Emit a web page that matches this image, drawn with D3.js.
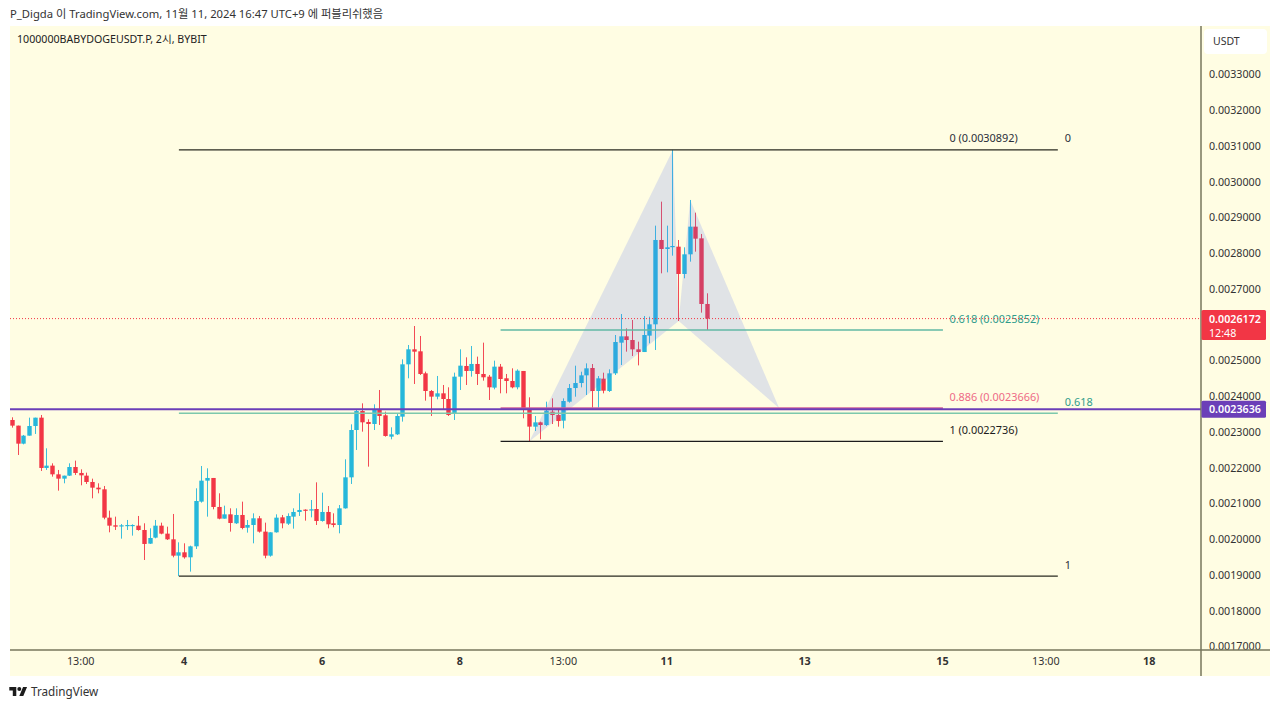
<!DOCTYPE html>
<html>
<head>
<meta charset="utf-8">
<script src="https://cdn.jsdelivr.net/npm/d3@7"></script>
<style>
html,body{margin:0;padding:0;background:#fff;}
svg{display:block;}
text{font-family:"Noto Sans","Noto Sans CJK KR",sans-serif;}
</style>
</head>
<body>
<div id="chart1"></div>
<script>
// prices are in units of 0.0000001, one entry per 2h candle
var opens = [23336,23178,22674,22898,23168,23401,21994,22059,21816,21695,
21779,22021,21854,21779,21602,21443,21397,20604,20390,20371,
20380,20380,20380,20259,19877,20045,20380,20157,19998,19541,
19635,19495,19802,21052,21639,21714,20903,20576,20697,20446,
20679,20324,20399,20586,20213,19541,20194,20613,20436,20632,
20763,20828,20809,20846,20511,20763,20446,20399,20865,21732,
23056,23588,23280,23224,23634,23467,22870,22935,23429,24893,
25313,25257,24641,24147,23989,24082,23923,23504,24548,24847,
24707,24903,24623,24548,24241,24828,24502,24427,24250,24707,
23644,23149,23270,23195,23568,23475,23317,23848,24230,24370,
24585,24790,24147,24492,24147,24641,25499,25676,25573,25312,
25237,25695,26012,28371,28119,28175,28184,27420,27970,28744,
28417,26581];
var closes = [23178,22674,22898,23168,23401,21994,22059,21816,21695,21779,
22021,21854,21788,21602,21443,21397,20604,20380,20352,20390,
20399,20399,20259,19868,20035,20380,20157,19998,19541,19635,
19495,19802,21070,21639,21714,20903,20576,20697,20455,20679,
20315,20399,20586,20213,19541,20194,20604,20446,20651,20763,
20819,20800,20837,20511,20763,20418,20399,20865,21732,23056,
23588,23271,23224,23616,23448,22889,22935,23448,24893,25313,
25247,24623,24147,23989,24082,23923,23476,24548,24856,24707,
24903,24623,24530,24250,24828,24483,24427,24250,24716,23644,
23150,23270,23195,23596,23475,23307,23867,24230,24370,24585,
24781,24147,24501,24156,24641,25517,25676,25573,25312,25237,
25713,26012,28371,28119,28166,28203,27420,27970,28744,28408,
26581,26172];
var highs = [23411,23178,22917,23401,23401,23476,22544,22124,21938,21779,
22124,22199,21956,21863,21695,21565,21490,20800,20632,20427,
20539,20418,20651,20446,20306,20539,20464,20352,20707,19914,
19886,19821,21425,22049,21984,21714,21285,20940,20865,20865,
21052,20539,20725,20651,20464,20194,20697,20679,20725,20865,
21285,20837,21098,21592,21303,20930,20725,20958,22236,23215,
23616,23802,23355,23774,24175,23569,23131,23523,25033,25434,
25965,25686,24688,24175,24567,24315,24250,24660,25313,25089,
25406,25108,25499,24595,24996,24903,24623,24781,24753,24707,
23970,23447,23289,23848,23941,23615,23941,24342,24855,24687,
24920,24902,24566,24659,24753,25713,26300,25899,26133,25527,
26244,26226,28772,29443,28772,30892,28371,28166,29490,29135,
28539,26879];
var lows = [23122,22357,22655,22898,22945,21910,21938,21751,21359,21565,
21770,21798,21509,21546,21145,21285,20558,20194,20259,20017,
20259,20101,20241,19420,19868,20026,20138,19979,19495,18970,
19457,19094,19728,21024,20632,20837,20558,20576,20213,20427,
20278,20185,19886,20185,19467,19513,20185,20306,20399,20296,
20651,20520,20613,20399,20492,20306,20334,20166,20856,21546,
22497,23010,22031,23056,23196,22870,22795,22916,23290,24502,
24343,24595,23877,23448,23914,23616,23448,23336,24175,24315,
24548,24315,24436,23895,24194,24082,24082,24222,24194,23383,
22736,23028,22795,23168,23223,23149,23102,23820,23988,24249,
24035,23680,23680,24081,24119,24594,24874,25247,25126,24864,
25237,25480,25294,27438,27466,27933,26105,27299,27765,28045,
26338,25853];

var priceTicks = [33000,32000,31000,30000,29000,28000,27000,25000,24000,23000,22000,21000,20000,19000,18000,17000];
var timeTickIdx = [12,30,54,78,96,114,138,162,180,198];
var timeTickLabels = ["13:00","4","6","8","13:00","11","13","15","13:00","18"];

// harmonic pattern X A B C D
var patternIdx = [90,115,116,118,133.5];
var patternPrice = [22736,30892,26105,29490,23666];

// long fib, candle 29 to 182
var fibLongPrice = [30892,23524,18970];
var fibLongLabels = ["0","0.618","1"];
// short fib, candle 85 to 162
var fibShortPrice = [30892,25852,23666,22736];
var fibShortLabels = ["0 (0.0030892)","0.618 (0.0025852)","0.886 (0.0023666)","1 (0.0022736)"];
var fibShortColors = ["#2a2e39","#2f9c8c","#ee6a86","#1c1c1c"];

var lastPrice = 26172, levelPrice = 23636;

var BG = "#fffde3", AXIS = "#77765c", UP = "#26b7da", DOWN = "#f23645";

var svg = d3.select("#chart1").append("svg").attr("width",1280).attr("height",709);

var x = d3.scaleLinear().domain([0,121]).range([12.3,707.4]);
var y = d3.scaleLinear().domain([33000,17000]).range([74.5,646.5]);
var fmt = function(v){ return (v/1e7).toFixed(7); };
// snap candle centres to the pixel grid so wicks stay sharp
function cx(i){ return Math.round(x(i)-0.5)+0.5; }

// header
svg.append("text").attr("x",10).attr("y",18).attr("font-size",11.25).attr("fill","#333")
  .text("P_Digda 이 TradingView.com, 11월 11, 2024 16:47 UTC+9 에 퍼블리쉬했음");

svg.append("rect").attr("x",10).attr("y",26).attr("width",1260).attr("height",650).attr("fill",BG);

svg.append("text").attr("x",17).attr("y",43).attr("font-size",10.65).attr("fill","#222")
  .text("1000000BABYDOGEUSDT.P, 2시, BYBIT");

// candles
var idx = d3.range(opens.length);
var candles = svg.append("g").selectAll("g").data(idx).enter().append("g");
function col(i){ return closes[i] >= opens[i] ? UP : DOWN; }
candles.append("line")
  .attr("x1",cx).attr("x2",cx)
  .attr("y1",function(i){return y(highs[i]);}).attr("y2",function(i){return y(lows[i]);})
  .attr("stroke",col).attr("stroke-width",1).attr("stroke-opacity",0.9);
candles.append("rect")
  .attr("x",function(i){return cx(i)-2.2;}).attr("width",4.4)
  .attr("y",function(i){return y(Math.max(opens[i],closes[i]));})
  .attr("height",function(i){return Math.max(1.2,Math.abs(y(opens[i])-y(closes[i])));})
  .attr("fill",col);

// pattern sits over the candles
function pt(k){ return [x(patternIdx[k]),y(patternPrice[k])]; }
[[0,1,2],[2,3,4]].forEach(function(t){
  svg.append("path").attr("d",d3.line()(t.map(pt))+"Z").attr("fill","rgba(85,109,242,0.18)");
});

// fib lines
function hline(a,b,p,color,w){
  svg.append("line").attr("x1",x(a)).attr("x2",x(b)).attr("y1",y(p)).attr("y2",y(p))
    .attr("stroke",color).attr("stroke-width",w);
}
hline(29,182,fibLongPrice[0],"#2a2a20",1.2);
hline(29,182,fibLongPrice[1],"#7cc8ac",1.6);
hline(29,182,fibLongPrice[2],"#2a2a20",1.2);
hline(85,162,fibShortPrice[1],"#62b9a4",1.4);
hline(85,162,fibShortPrice[2],"#d0609a",2);
hline(85,162,fibShortPrice[3],"#1c1c1c",1.2);

fibShortPrice.forEach(function(p,i){
  svg.append("text").attr("x",x(162)+6.5).attr("y",y(p)-7.5).attr("font-size",10.9)
    .attr("fill",fibShortColors[i]).text(fibShortLabels[i]);
});
var fibLongColors = ["#2a2e39","#2f9c8c","#2a2e39"];
fibLongPrice.forEach(function(p,i){
  svg.append("text").attr("x",x(182)+7).attr("y",y(p)-7.5).attr("font-size",10.9)
    .attr("fill",fibLongColors[i]).text(fibLongLabels[i]);
});

// last price and drawn level
svg.append("line").attr("x1",10).attr("x2",1201).attr("y1",y(lastPrice)).attr("y2",y(lastPrice))
  .attr("stroke",DOWN).attr("stroke-width",1).attr("stroke-dasharray","1 2");
svg.append("line").attr("x1",10).attr("x2",1201).attr("y1",y(levelPrice)).attr("y2",y(levelPrice))
  .attr("stroke","#6b3fb8").attr("stroke-width",2);

// axes
var yAxis = d3.axisRight(y).tickValues(priceTicks).tickSize(0).tickPadding(8).tickFormat(fmt);
var gy = svg.append("g").attr("transform","translate(1201,0)").call(yAxis);
gy.select(".domain").remove();
gy.selectAll("text").attr("font-size",10.7).attr("fill","#333").style("font-family",'"Noto Sans"');

var xAxis = d3.axisBottom(x).tickValues(timeTickIdx).tickSize(0).tickPadding(7)
  .tickFormat(function(d,i){ return timeTickLabels[i]; });
var gx = svg.append("g").attr("transform","translate(-1,650)").call(xAxis);
gx.select(".domain").remove();
gx.selectAll("text").attr("font-size",10.8).attr("fill","#333").style("font-family",'"Noto Sans"');
gx.selectAll("text").filter(function(d,i){ return timeTickLabels[i].length<3; }).attr("font-weight","bold");

svg.append("line").attr("x1",10).attr("x2",1270).attr("y1",650).attr("y2",650).attr("stroke",AXIS).attr("stroke-width",1.5);
svg.append("line").attr("x1",1201).attr("x2",1201).attr("y1",26).attr("y2",676).attr("stroke",AXIS).attr("stroke-width",1.5);

// price badges
function badge(p,h,color,lines){
  var top = y(p)-8.5;
  svg.append("rect").attr("x",1201.5).attr("y",top).attr("width",64.5).attr("height",h).attr("rx",1.5).attr("fill",color);
  lines.forEach(function(t,i){
    svg.append("text").attr("x",1209).attr("y",top+12.5+i*14).attr("font-size",10.7).attr("fill","#fff")
      .attr("font-weight",i==0?"600":"400").text(t);
  });
}
badge(lastPrice,30,DOWN,[fmt(lastPrice),"12:48"]);
badge(levelPrice,17,"#6b3fb8",[fmt(levelPrice)]);

// currency button
svg.append("rect").attr("x",1204).attr("y",29).attr("width",63).attr("height",25).attr("rx",4).attr("fill","#fff");
svg.append("text").attr("x",1213).attr("y",45).attr("font-size",10.5).attr("fill","#333").text("USDT");

// logo
svg.append("path").attr("transform","translate(9.3,685) scale(0.5)")
  .attr("d","M14 22H7V11H0V4h14v18zM28 22h-8l7.5-18h8L28 22z").attr("fill","#1c1c1c");
svg.append("circle").attr("transform","translate(9.3,685) scale(0.5)")
  .attr("cx",20).attr("cy",8).attr("r",4).attr("fill","#1c1c1c");
svg.append("text").attr("x",31).attr("y",696).attr("font-size",11.7).attr("fill","#333").text("TradingView");
</script>
</body>
</html>
